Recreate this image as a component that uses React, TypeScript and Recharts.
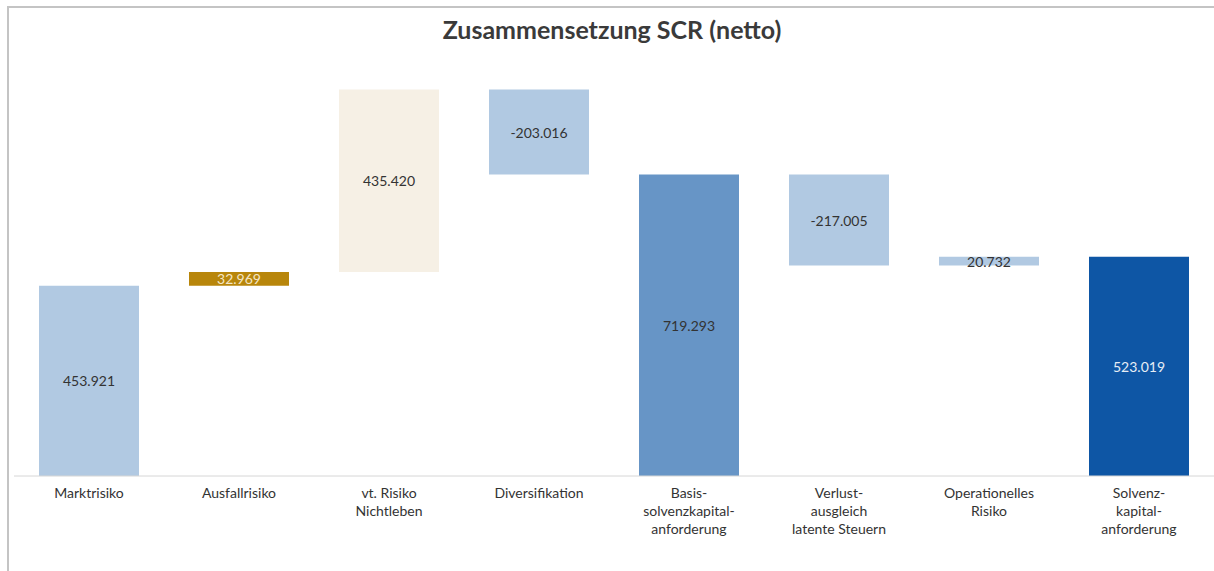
import React from "react";
import { BarChart, Bar, XAxis, YAxis, Cell, LabelList } from "recharts";

const categories = [
  "Marktrisiko",
  "Ausfallrisiko",
  "vt. Risiko\nNichtleben",
  "Diversifikation",
  "Basis-\nsolvenzkapital-\nanforderung",
  "Verlust-\nausgleich\nlatente Steuern",
  "Operationelles\nRisiko",
  "Solvenz-\nkapital-\nanforderung",
];
const values = [453921, 32969, 435420, -203016, 719293, -217005, 20732, 523019];
const isTotal = [false, false, false, false, true, false, false, true];
const barColors = ["#B1C9E2", "#B8860B", "#F6F0E5", "#B1C9E2", "#6795C6", "#B1C9E2", "#B1C9E2", "#0E56A5"];
const labelColors = ["#333333", "#F5E6C6", "#333333", "#333333", "#333333", "#333333", "#333333", "#E6EDF6"];

const FONT = "Lato, 'Noto Sans', sans-serif";

function fmt(v: number): string {
  const s = Math.abs(Math.round(v)).toString().replace(/\B(?=(\d{3})+(?!\d))/g, ".");
  return (v < 0 ? "-" : "") + s;
}

let running = 0;
const data = categories.map((name, i) => {
  const v = values[i];
  let range: [number, number];
  if (isTotal[i]) {
    range = [0, v];
    running = v;
  } else {
    const next = running + v;
    range = [Math.min(running, next), Math.max(running, next)];
    running = next;
  }
  return { name, range, value: v, idx: i };
});

const Tick = (props: any) => {
  const { x, y, payload } = props;
  const lines = String(payload.value).split("\n");
  return (
    <text x={x} y={y} textAnchor="middle" fill="#333333" fontFamily={FONT} fontSize={14}>
      {lines.map((l, i) => (
        <tspan key={i} x={x} dy={i === 0 ? 14 : 18}>
          {l}
        </tspan>
      ))}
    </text>
  );
};

const renderLabel = (props: any) => {
  const { x, y, width, height, index } = props;
  return (
    <text
      x={x + width / 2}
      y={y + height / 2}
      textAnchor="middle"
      dominantBaseline="central"
      fill={labelColors[index]}
      fontFamily={FONT}
      fontSize={14}
    >
      {fmt(values[index])}
    </text>
  );
};

export default function App() {
  return (
    <div style={{ position: "absolute", left: 0, top: 0, width: 1214, height: 571, background: "#fff", overflow: "hidden" }}>
      <div
        style={{
          position: "absolute",
          left: 7,
          top: 6,
          width: 1220,
          height: 600,
          borderTop: "2px solid #c4c4c4",
          borderLeft: "2px solid #c4c4c4",
        }}
      />
      <div
        style={{
          position: "absolute",
          left: 0,
          top: 14,
          width: 1224,
          textAlign: "center",
          fontFamily: FONT,
          fontWeight: 700,
          fontSize: 25,
          color: "#3a3a3a",
        }}
      >
        Zusammensetzung SCR (netto)
      </div>
      <div style={{ position: "absolute", left: 0, top: 0 }}>
        <BarChart
          width={1214}
          height={571}
          data={data}
          margin={{ top: 57, right: 0, left: 14, bottom: 35 }}
        >
          <XAxis
            dataKey="name"
            interval={0}
            tickLine={false}
            axisLine={{ stroke: "#d6d6d6", strokeWidth: 1 }}
            tick={<Tick />}
            height={60}
          />
          <YAxis hide domain={[0, 1000000]} />
          <Bar dataKey="range" barSize={100} isAnimationActive={false}>
            {data.map((d, i) => (
              <Cell key={i} fill={barColors[i]} />
            ))}
            <LabelList dataKey="value" content={renderLabel} />
          </Bar>
        </BarChart>
      </div>
    </div>
  );
}
